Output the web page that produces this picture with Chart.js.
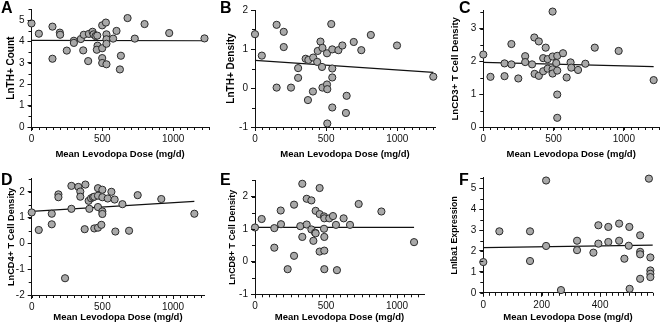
<!DOCTYPE html>
<html>
<head>
<meta charset="utf-8">
<script src="https://cdn.jsdelivr.net/npm/chart.js@4.4.1/dist/chart.umd.min.js"></script>
<style>
  html, body { margin: 0; padding: 0; background: #fff; width: 661px; height: 324px; overflow: hidden; position: relative; }
  canvas { position: absolute; }
</style>
</head>
<body>
<canvas id="pA"></canvas>
<canvas id="pB"></canvas>
<canvas id="pC"></canvas>
<canvas id="pD"></canvas>
<canvas id="pE"></canvas>
<canvas id="pF"></canvas>
<script>
// tick labels
const xTicksDose = [0, 500, 1000];
const xTicksDoseF = [0, 200, 400];
const yTicksA = [0, 1, 2, 3, 4, 5];
const yTicksB = [-1, 0, 1, 2];
const yTicksC = [0, 1, 2, 3];
const yTicksD = [-2, -1, 0, 1, 2];
const yTicksE = [-1, 0, 1, 2];
const yTicksF = [0, 1, 2, 3, 4, 5];

// A: LnTH+ count
const doseA = [0, 52, 148, 148, 200, 202, 249, 299, 299, 348, 365, 369, 400, 405, 431, 438, 452, 464, 466, 461,
  499, 499, 499, 499, 525, 529, 529, 529, 529, 576, 600, 624, 631, 678, 729, 798, 972, 1221];
const thCount = [4.84, 4.36, 4.69, 3.19, 4.41, 4.31, 3.57, 4.03, 3.93, 4.11, 3.58, 4.31, 3.08, 4.35, 4.45, 4.33, 4.25, 4.27, 3.80, 3.61,
  4.75, 3.68, 3.22, 2.99, 4.88, 4.33, 4.10, 3.89, 2.93, 4.13, 4.49, 2.69, 3.33, 5.09, 4.13, 4.81, 4.39, 4.14];
const fitXA = [0, 1240];
const fitYA = [4.05, 4.03];

// B: LnTH+ density
const doseB = [0, 48, 152, 152, 202, 202, 253, 303, 303, 356, 372, 375, 407, 409, 437, 441, 460, 474, 471, 474,
  506, 506, 508, 508, 536, 543, 543, 543, 543, 586, 614, 644, 639, 694, 747, 814, 998, 1253];
const thDensity = [1.38, 0.83, 1.62, 0.01, 1.44, 1.05, 0.01, 0.51, 0.26, 0.75, -0.31, 0.72, -0.09, 0.78, 0.67, 0.95, 1.19, 1.03, 0.54, 0.01,
  0.89, 0.09, -0.03, -0.91, 1.64, 0.99, 0.50, 0.27, -0.50, 0.97, 1.09, -0.20, -0.64, 1.18, 0.97, 1.36, 1.09, 0.29];
const fitXB = [0, 1253];
const fitYB = [0.71, 0.40];

// C: LnCD3+ T cell density
const doseC = [0, 51, 151, 151, 200, 200, 249, 298, 298, 347, 363, 365, 395, 395, 426, 426, 444, 458, 458,
  493, 493, 493, 493, 519, 526, 526, 526, 526, 567, 593, 621, 626, 674, 726, 793, 963, 1212];
const cd3 = [2.21, 1.53, 1.94, 1.55, 1.91, 2.53, 1.48, 2.16, 1.98, 1.91, 2.73, 1.62, 2.61, 1.56, 2.10, 1.70, 2.42, 2.07, 1.78,
  2.15, 1.76, 1.63, 3.52, 1.95, 2.17, 1.72, 0.99, 0.28, 2.25, 1.51, 1.97, 1.81, 1.74, 1.93, 2.42, 2.32, 1.43];
const fitXC = [0, 1212];
const fitYC = [1.97, 1.84];

// D: LnCD4+ T cell density
const doseD = [0, 50, 142, 142, 189, 189, 236, 281, 281, 330, 344, 344, 375, 380, 403, 408, 420, 434, 443, 443,
  469, 469, 469, 469, 500, 500, 500, 500, 493, 538, 564, 587, 592, 642, 689, 750, 917, 1151];
const cd4 = [1.20, 0.52, 1.15, 0.74, 1.90, 1.79, -1.35, 2.23, 1.34, 2.19, 2.01, 1.81, 0.55, 2.28, 1.65, 1.34, 1.75, 1.79, 0.58, 1.81,
  2.14, 1.85, 1.41, 0.61, 2.08, 1.79, 1.24, 1.14, 0.72, 1.74, 2.00, 1.70, 0.46, 1.52, 0.49, 1.87, 1.72, 1.15];
const fitXD = [0, 1151];
const fitYD = [1.24, 1.63];

// E: LnCD8+ T cell density
const doseE = [0, 47, 136, 136, 181, 183, 230, 275, 275, 319, 333, 333, 364, 364, 397, 397, 411, 423, 427, 427,
  455, 455, 455, 486, 486, 488, 488, 488, 488, 523, 549, 570, 577, 624, 669, 730, 890, 1120];
const cd8 = [1.05, 1.31, 1.03, 0.43, 1.57, 1.15, -0.23, 0.18, 1.75, 1.09, 0.76, 2.39, 1.14, 1.93, 1.88, 0.99, 0.64, 0.89, 1.56, 0.87,
  2.26, 1.46, 0.31, 1.39, 1.01, 1.33, 0.76, 0.34, -0.23, 1.33, 1.40, 1.13, -0.26, 1.33, 1.13, 1.77, 1.54, 0.60];
const fitXE = [0, 1120];
const fitYE = [1.05, 1.05];

// F: LnIba1 expression
const doseF = [0, 55, 160, 160, 215, 215, 266, 321, 321, 377, 394, 394, 428, 428, 465, 465, 483, 500, 498, 501,
  537, 537, 537, 537, 567, 572, 572, 572, 572];
const iba1 = [1.47, 2.94, 2.94, 1.52, 5.37, 2.24, 0.13, 2.49, 2.04, 1.92, 3.23, 2.35, 3.15, 2.43, 3.31, 2.49, 1.63, 3.15, 2.25, 0.19,
  2.75, 1.96, 1.84, 0.67, 5.46, 1.69, 1.07, 0.91, 0.75];
const fitXF = [0, 580];
const fitYF = [2.16, 2.28];

Chart.defaults.font.family = '"Liberation Sans", Arial, Helvetica, sans-serif';
Chart.defaults.color = '#111';

// minor ticks + panel letter
const decorPlugin = {
  id: 'decor',
  afterDraw(chart, args, o) {
    const { ctx } = chart;
    const xs = chart.scales.x, ys = chart.scales.y;
    ctx.save();
    ctx.strokeStyle = '#111';
    ctx.lineWidth = 1;
    ctx.beginPath();
    for (let v = xs.min; v <= xs.max + 1e-6; v += o.xStep) {
      const px = Math.round(xs.getPixelForValue(v)) + 0.5;
      ctx.moveTo(px, xs.top);
      ctx.lineTo(px, xs.top + 3);
    }
    for (let v = ys.min; v <= ys.max + 1e-6; v += 0.5) {
      const py = Math.round(ys.getPixelForValue(v)) + 0.5;
      ctx.moveTo(ys.right, py);
      ctx.lineTo(ys.right - 3, py);
    }
    ctx.stroke();
    ctx.fillStyle = '#000';
    ctx.font = 'bold 16px "Liberation Sans", Arial, sans-serif';
    ctx.textBaseline = 'alphabetic';
    ctx.fillText(o.letter, o.lx, o.ly);
    ctx.restore();
  }
};

function makePanel(p) {
  const canvas = document.getElementById(p.id);
  canvas.style.left = p.left + 'px';
  canvas.style.top = p.top + 'px';
  canvas.width = p.w;
  canvas.height = p.h;
  canvas.style.width = p.w + 'px';
  canvas.style.height = p.h + 'px';

  const yWidth = p.axisX - p.left - p.padL;
  const xHeight = p.h - p.padB - (p.axisY - p.top);

  return new Chart(canvas, {
    type: 'scatter',
    data: {
      datasets: [{
        data: p.x.map((v, i) => ({ x: v, y: p.y[i] })),
        pointRadius: 3.6,
        pointBackgroundColor: '#a9a9a9',
        pointBorderColor: '#2a2a2a',
        pointBorderWidth: 1,
        clip: false
      }, {
        type: 'line',
        data: p.fx.map((v, i) => ({ x: v, y: p.fy[i] })),
        borderColor: '#111',
        borderWidth: 1.2,
        pointRadius: 0,
        fill: false,
        clip: false
      }]
    },
    options: {
      responsive: false,
      animation: false,
      devicePixelRatio: 1,
      layout: { padding: { left: p.padL, right: p.padR, top: p.padT, bottom: p.padB } },
      scales: {
        x: {
          type: 'linear',
          min: 0,
          max: p.xMax,
          afterBuildTicks: s => { s.ticks = p.xTicks.map(v => ({ value: v })); },
          afterFit: s => { s.height = xHeight; },
          ticks: { autoSkip: false, maxRotation: 0, padding: 2, font: { size: 10 }, color: '#111', callback: v => String(v) },
          grid: { display: true, drawOnChartArea: false, tickLength: 4, tickColor: '#111', tickWidth: 1 },
          border: { display: true, color: '#111', width: 1 },
          title: { display: true, text: 'Mean Levodopa Dose (mg/d)', font: { size: 9.5, weight: 'bold' }, padding: 0, color: '#000' }
        },
        y: {
          min: p.yMin,
          max: p.yMax,
          afterBuildTicks: s => { s.ticks = p.yTicks.map(v => ({ value: v })); },
          afterFit: s => { s.width = yWidth; },
          ticks: { autoSkip: false, padding: 3, font: { size: 10 }, color: '#111', callback: v => String(v) },
          grid: { display: true, drawOnChartArea: false, tickLength: 4, tickColor: '#111', tickWidth: 1 },
          border: { display: true, color: '#111', width: 1 },
          title: { display: true, text: p.yTitle, font: { size: p.ySize, weight: 'bold' }, padding: 0, color: '#000' }
        }
      },
      plugins: {
        legend: { display: false },
        tooltip: { enabled: false },
        decor: { letter: p.letter, lx: p.lx, ly: p.ly, xStep: p.xStep }
      }
    },
    plugins: [decorPlugin]
  });
}

const panels = [
  { id: 'pA', left: 0, top: 0, w: 220, h: 160, letter: 'A', lx: 1, ly: 13, yTitle: 'LnTH+ Count', ySize: 10,
    x: doseA, y: thCount, fx: fitXA, fy: fitYA, xTicks: xTicksDose, yTicks: yTicksA, xStep: 50,
    xMax: 1250, yMin: 0, yMax: 5.5, axisX: 31.5, axisY: 127, padL: 5.7, padT: 9.3, padR: 11.4, padB: 0 },
  { id: 'pB', left: 220, top: 0, w: 220, h: 160, letter: 'B', lx: 0, ly: 13, yTitle: 'LnTH+ Density', ySize: 10,
    x: doseB, y: thDensity, fx: fitXB, fy: fitYB, xTicks: xTicksDose, yTicks: yTicksB, xStep: 50,
    xMax: 1265, yMin: -1, yMax: 2, axisX: 255, axisY: 127, padL: 5.7, padT: 10, padR: 1.6, padB: 0 },
  { id: 'pC', left: 440, top: 0, w: 224, h: 160, letter: 'C', lx: 19, ly: 13, yTitle: 'LnCD3+ T Cell Density', ySize: 9.7,
    x: doseC, y: cd3, fx: fitXC, fy: fitYC, xTicks: xTicksDose, yTicks: yTicksC, xStep: 50,
    xMax: 1250, yMin: 0, yMax: 3.55, axisX: 483.3, axisY: 127, padL: 10, padT: 10.6, padR: 1.9, padB: 0 },
  { id: 'pD', left: 0, top: 160, w: 220, h: 164, letter: 'D', lx: 1, ly: 25, yTitle: 'LnCD4+ T Cell Density', ySize: 9.2,
    x: doseD, y: cd4, fx: fitXD, fy: fitYD, xTicks: xTicksDose, yTicks: yTicksD, xStep: 50,
    xMax: 1220, yMin: -2, yMax: 2.5, axisX: 31.7, axisY: 295, padL: 5.7, padT: 18.9, padR: 15.9, padB: 1 },
  { id: 'pE', left: 220, top: 160, w: 220, h: 164, letter: 'E', lx: 0, ly: 25, yTitle: 'LnCD8+ T Cell Density', ySize: 8.9,
    x: doseE, y: cd8, fx: fitXE, fy: fitYE, xTicks: xTicksDose, yTicks: yTicksE, xStep: 50,
    xMax: 1190, yMin: -1, yMax: 2.5, axisX: 255, axisY: 294.3, padL: 7.3, padT: 20.2, padR: 16, padB: 1 },
  { id: 'pF', left: 440, top: 160, w: 221, h: 164, letter: 'F', lx: 19, ly: 25, yTitle: 'LnIba1 Expression', ySize: 8.8,
    x: doseF, y: iba1, fx: fitXF, fy: fitYF, xTicks: xTicksDoseF, yTicks: yTicksF, xStep: 20,
    xMax: 580, yMin: 0, yMax: 5.5, axisX: 483.3, axisY: 292.8, padL: 9, padT: 17.8, padR: 8.3, padB: 1 }
];

panels.forEach(makePanel);
</script>
</body>
</html>
